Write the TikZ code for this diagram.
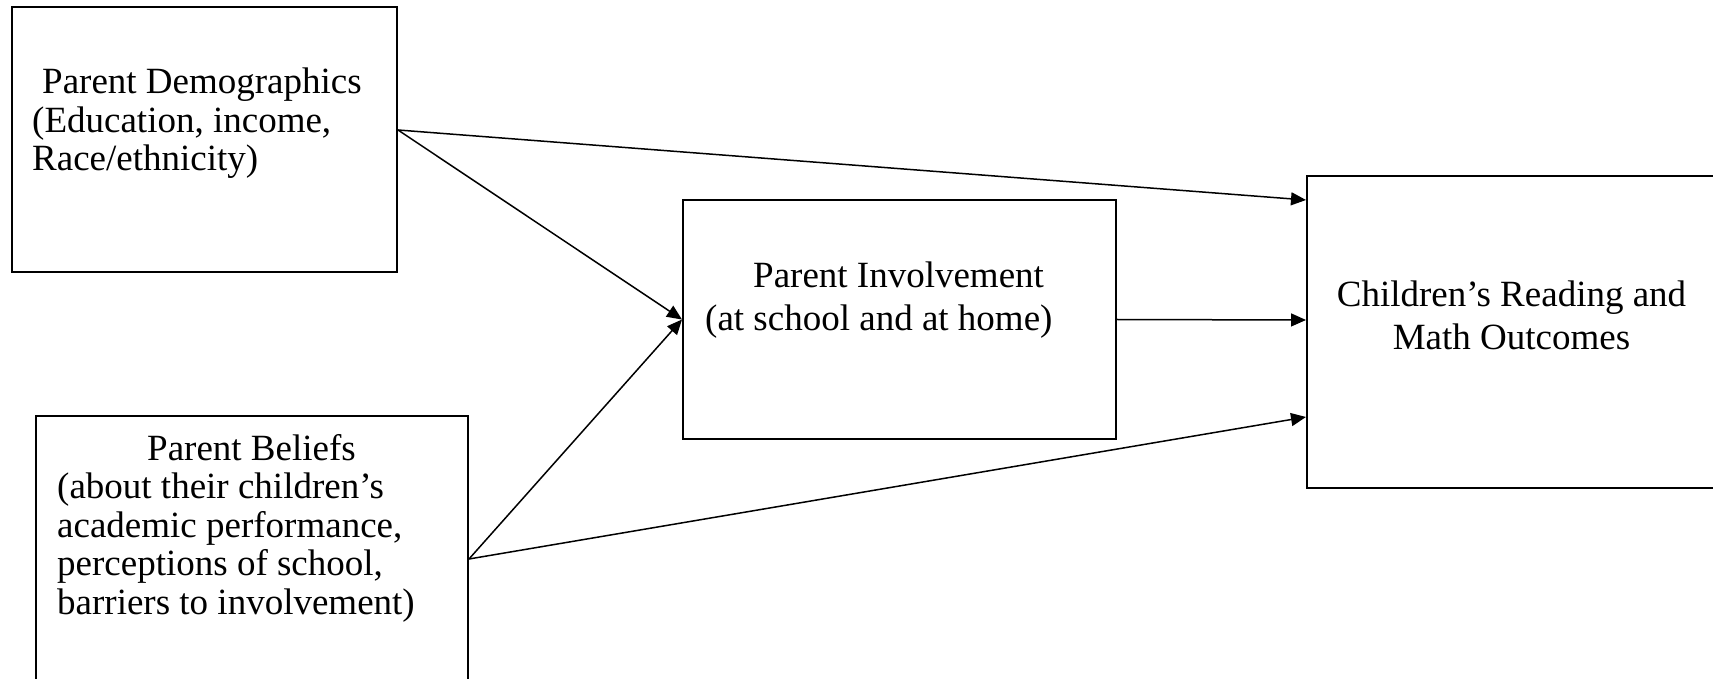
\documentclass[tikz,border=0pt]{standalone}
\usepackage{fontspec}
\setmainfont{Liberation Serif}
\usetikzlibrary{arrows.meta}
\tikzset{
  box/.style={draw, line width=2pt, inner sep=0pt},
  lbl/.style={inner sep=0pt, align=left, font=\fontsize{37}{38.5}\selectfont},
  lblwide/.style={lbl, font=\fontsize{37}{43}\selectfont},
}
\begin{document}
\begin{tikzpicture}[x=1pt, y=1pt]
  \useasboundingbox (0,0) rectangle (1713,678);
  \draw
    (204.5,538.5) node[box, minimum width=385pt, minimum height=265pt] (demo){}
    (252,125) node[box, minimum width=432pt, minimum height=274pt] (belief){}
    (899.5,358.5) node[box, minimum width=433pt, minimum height=239pt] (involve){}
    (1516,346) node[box, minimum width=418pt, minimum height=312pt] (outcome){};
  % base anchor sits on the last line
  \draw
    (32,507) node[lbl, anchor=base west] (demolbl){\hspace*{10pt}Parent Demographics\\(Education, income,\\Race/ethnicity)}
    (57,64) node[lbl, anchor=base west] (belieflbl){\hspace*{90pt}Parent Beliefs\\(about their children’s\\academic performance,\\perceptions of school,\\barriers to involvement)}
    (705,347) node[lblwide, anchor=base west] (involvelbl){\hspace*{48pt}Parent Involvement\\(at school and at home)}
    (1511.5,328) node[lblwide, align=center, anchor=base] (outcomelbl){Children’s Reading and\\Math Outcomes};
  \begin{scope}[-{Triangle[length=15pt,width=13pt]}, line width=1.5pt]
    \draw ([yshift=9.5pt]demo.east) to ([yshift=132pt]outcome.west);
    \draw ([yshift=9.5pt]demo.east) to (involve.west);
    \draw ([yshift=-6pt]belief.east) to (involve.west);
    \draw ([yshift=-6pt]belief.east) to ([yshift=-85pt]outcome.west);
    \draw (involve.east) to ([yshift=12pt]outcome.west);
  \end{scope}
\end{tikzpicture}
\end{document}
